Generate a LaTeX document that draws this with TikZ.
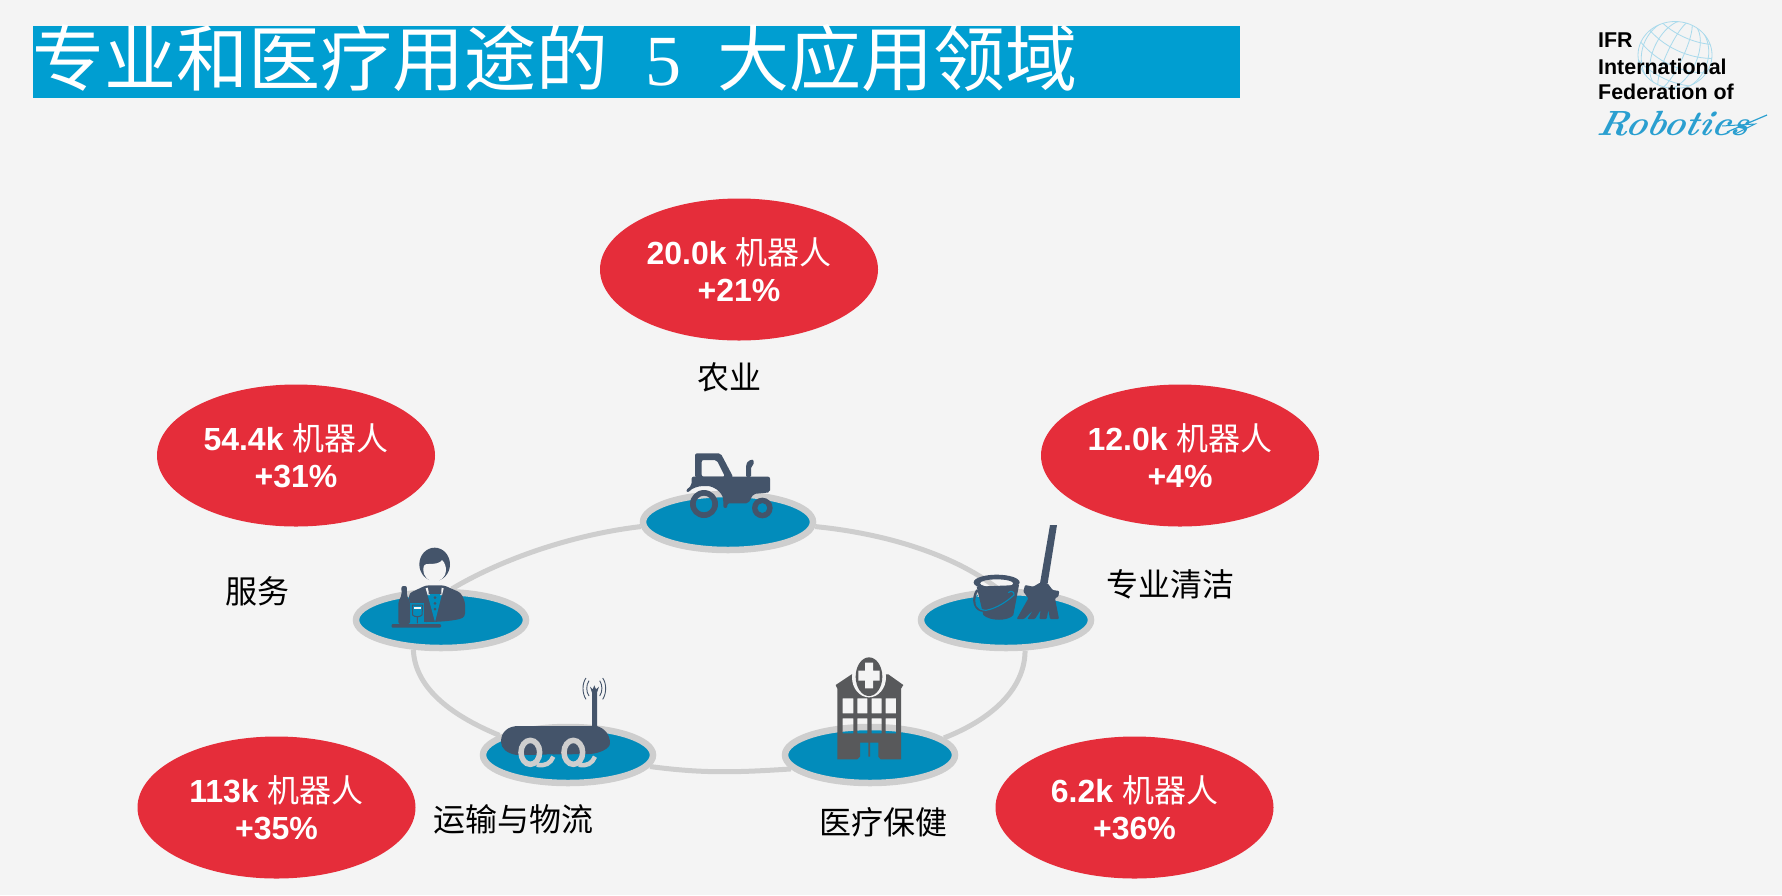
\documentclass[tikz,border=0pt]{standalone}
\usepackage{fontspec}
\setmainfont{Liberation Sans}
\newfontfamily\cjk{Noto Sans CJK SC}
\newfontfamily\serifnum{Liberation Serif}
\newfontfamily\scriptrm{Latin Modern Roman}
\usetikzlibrary{shapes.geometric,backgrounds}
\definecolor{bgc}{HTML}{F4F4F4}
\definecolor{barc}{HTML}{009ED1}
\definecolor{redc}{HTML}{E52D3A}
\definecolor{bluec}{HTML}{028CBB}
\definecolor{ringc}{HTML}{CECECE}
\definecolor{iconc}{HTML}{44546A}
\definecolor{hospc}{HTML}{58595B}
\definecolor{globec}{HTML}{A9DAEC}
\definecolor{robc}{HTML}{2A9FD0}
\tikzset{
  redell/.style={ellipse,fill=redc,minimum width=278pt,minimum height=142pt,inner sep=0pt,
    text=white,align=center,font=\fontsize{32}{37}\selectfont},
  hub/.style={ellipse,draw=ringc,fill=bluec,line width=6.5pt,minimum width=170pt,minimum height=56pt,inner sep=0pt},
  link/.style={draw=ringc,line width=5pt},
  lab/.style={font=\fontsize{32}{36}\selectfont\cjk,text=black,inner sep=0pt},
  logot/.style={font=\fontsize{21.4}{24}\selectfont\bfseries,text=black,anchor=base west,inner sep=0pt},
  zoomA/.style={shift={(340,420)},x=.33333pt,y=-.33333pt},
  zoomB/.style={shift={(620,420)},x=.33333pt,y=-.33333pt},
  gl/.style={draw=globec,line width=.8pt}
}
\begin{document}
\begin{tikzpicture}[x=1pt,y=-1pt]
\useasboundingbox (0,0) rectangle (1782,895);
% hubs
\node[hub] (trac) at (728,522) {};
\node[hub] (svc) at (441,620) {};
\node[hub] (clean) at (1006,620) {};
\node[hub] (trans) at (568,755) {};
\node[hub] (med) at (870,755) {};
\begin{scope}[on background layer]
\fill[bgc] (0,0) rectangle (1782,895);
\draw[link] (svc.71) .. controls (500,560) and (570,535) .. (trac.183);
\draw[link] (trac.-3) .. controls (880,533) and (950,552) .. (clean.104);
\draw[link] (clean.-58) .. controls (1025,690) and (990,720) .. (med.13);
\draw[link] (med.190) .. controls (730,773) and (700,773) .. (trans.-8);
\draw[link] (trans.164) .. controls (455,717) and (415,690) .. (svc.227);
\end{scope}
% title
\node[fill=barc,minimum width=1207pt,minimum height=72pt,inner sep=0pt,anchor=north west] (bar) at (33,26) {};
\node[anchor=base west,inner sep=0pt,text=white,font=\fontsize{72}{75}\selectfont\cjk] (title) at (32,85)
  {专业和医疗用途的\hspace{37pt}{\serifnum 5}\hspace{36pt}大应用领域};
% red ellipses
\node[redell] (e1) at (739,269.5) {{\bfseries 20.0k} {\cjk 机器人}\\{\bfseries +21\%}};
\node[redell] (e2) at (296,455.5) {{\bfseries 54.4k} {\cjk 机器人}\\{\bfseries +31\%}};
\node[redell] (e3) at (1180,455.5) {{\bfseries 12.0k} {\cjk 机器人}\\{\bfseries +4\%}};
\node[redell] (e4) at (276.5,807.5) {{\bfseries 113k} {\cjk 机器人}\\{\bfseries +35\%}};
\node[redell] (e5) at (1134.5,807.5) {{\bfseries 6.2k} {\cjk 机器人}\\{\bfseries +36\%}};
% labels
\node[lab] (l1) at (729,377) {农业};
\node[lab] (l2) at (257,591) {服务};
\node[lab] (l3) at (1170.6,584) {专业清洁};
\node[lab] (l4) at (513,819) {运输与物流};
\node[lab] (l5) at (883,822) {医疗保健};
% tractor
\begin{scope}[zoomA]
\fill[iconc,even odd rule,rounded corners=2pt]
  (1065,172) -- (1065,100) -- (1142,100) -- (1180,172) -- cycle
  (1085,120) -- (1130,120) -- (1155,170) -- (1085,170) -- cycle;
\fill[iconc,rounded corners=2pt] (1055,170) -- (1290,170) -- (1290,217) -- (1240,222) -- (1225,250) -- (1162,250) -- (1162,264) -- (1150,264) -- (1150,240)
  .. controls (1145,215) and (1120,198) .. (1095,198) .. controls (1075,198) and (1055,205) .. (1045,218) -- (1037,212) -- (1055,195) -- cycle;
\fill[iconc,rounded corners=1.5pt] (1218,172) -- (1218,135) -- (1225,122) -- (1241,118) -- (1241,135) -- (1233,140) -- (1233,172) -- cycle;
\fill[iconc,even odd rule] (1092,252) circle[radius=42] (1092,252) circle[radius=25];
\fill[iconc,even odd rule] (1267,264) circle[radius=31] (1267,264) circle[radius=15];
\end{scope}
% waiter
\begin{scope}[zoomA]
\fill[iconc] (284,433) ellipse[x radius=46,y radius=50];
\fill[bgc] (250,448) .. controls (250,435) and (255,432) .. (265,432) .. controls (285,432) and (300,430) .. (306,420)
  .. controls (315,428) and (318,440) .. (318,452) .. controls (318,470) and (300,485) .. (284,485) .. controls (265,485) and (250,470) .. (250,448) -- cycle;
\fill[iconc,rounded corners=3pt] (207,520) -- (258,496) -- (312,496) -- (362,518) -- (375,545) -- (375,590) .. controls (350,602) and (300,606) .. (250,606) -- (210,600) -- cycle;
\fill[bluec] (262,522) -- (306,522) -- (285,606) -- cycle;
\fill[bgc] (257,505) -- (263,503) -- (270,525) -- (263,525) -- cycle (311,505) -- (305,503) -- (300,525) -- (306,525) -- cycle;
\fill[iconc] (266,503) -- (285,512) -- (304,503) -- (304,524) -- (285,516) -- (266,524) -- cycle;
\foreach \yy in {533,550,567} \fill[iconc] (285,\yy) circle[radius=4.5];
\fill[bluec] (208,550) rectangle (252,612);
\fill[iconc,rounded corners=2pt] (175,612) -- (175,545) -- (185,525) -- (184,498) -- (201,498) -- (200,525) -- (210,545) -- (210,612) -- cycle;
\draw[iconc,line width=1pt] (217,555) -- (248,555) -- (246,585) .. controls (240,592) and (224,592) .. (218,585) -- cycle (232,592) -- (232,610);
\fill[bgc] (222,561) rectangle (243,567);
\fill[iconc,rounded corners=1pt] (155,612) rectangle (303,623);
\end{scope}
% robot
\begin{scope}[zoomA]
\fill[iconc] (756,925) -- (756,818) -- (750,800) -- (758,808) -- (763,796) -- (768,808) -- (777,800) -- (771,818) -- (771,925) -- cycle;
\draw[iconc,line width=.9pt] (747,782) .. controls (738,795) and (738,815) .. (747,828)
  (738,774) .. controls (726,790) and (726,820) .. (738,838)
  (779,782) .. controls (788,795) and (788,815) .. (779,828)
  (788,774) .. controls (800,790) and (800,820) .. (788,838);
\fill[iconc] (483,965) .. controls (483,935) and (505,918) .. (535,918) -- (770,918) .. controls (795,925) and (810,945) .. (810,970)
  .. controls (810,985) and (780,1000) .. (750,1002) -- (530,1005) .. controls (500,1000) and (483,985) .. (483,965) -- cycle;
\fill[bluec] (620,1003) -- (640,1003) -- (628,1030) -- (615,1033) -- cycle (745,1003) -- (768,1003) -- (755,1030) -- (742,1033) -- cycle;
\draw[ringc,line width=5.5pt] (571,997) ellipse[x radius=28,y radius=36] (700,997) ellipse[x radius=28,y radius=36];
\draw[ringc,line width=4.5pt] (590,1034) .. controls (615,1040) and (632,1030) .. (640,1010)
  (716,1034) .. controls (740,1040) and (757,1030) .. (765,1010);
\end{scope}
% hospital
\begin{scope}[zoomB]
\fill[hospc,even odd rule] (652,1018) -- (652,806) -- (647,795) -- (695,763) -- (805,763) -- (850,795) -- (843,806) -- (843,1018) -- (782,1018) -- (775,1010) -- (775,968) -- (750,968) -- (750,1010) -- (745,1010) -- (745,968) -- (720,968) -- (720,1010) -- (712,1018) -- cycle
  (668,835) rectangle (700,880) (712,835) rectangle (742,880) (755,835) rectangle (785,880) (797,835) rectangle (828,880)
  (668,895) rectangle (700,940) (712,895) rectangle (742,940) (755,895) rectangle (785,940) (797,895) rectangle (828,940);
\fill[bgc] (747,772) ellipse[x radius=51,y radius=60];
\fill[hospc] (747,770) ellipse[x radius=40,y radius=58];
\fill[bgc] (735,728) rectangle (759,805) (715,752) rectangle (779,782);
\end{scope}
% bucket and mop
\begin{scope}[zoomB]
\fill[iconc] (1070,500) -- (1090,585) .. controls (1110,604) and (1165,604) .. (1180,585) -- (1197,495) -- cycle;
\fill[iconc,even odd rule] (1130,487) ellipse[x radius=69,y radius=23] (1130,490) ellipse[x radius=50,y radius=12];
\draw[iconc,line width=2.4pt] (1072,510) .. controls (1055,535) and (1062,575) .. (1095,572);
\draw[bluec,line width=1.1pt] (1072,525) .. controls (1062,550) and (1070,570) .. (1098,571) .. controls (1130,565) and (1160,545) .. (1182,525) .. controls (1184,515) and (1172,510) .. (1165,518);
\fill[iconc] (1290,315) -- (1311,315) -- (1283,490) -- (1260,490) -- cycle;
\fill[iconc,rounded corners=1pt] (1260,488) -- (1283,490) -- (1298,510) -- (1318,513) -- (1315,530) -- (1305,535) -- (1317,597) -- (1290,597) -- (1285,570) -- (1280,597) -- (1258,597) -- (1262,570) -- (1245,597) -- (1222,597) -- (1240,570) -- (1212,597) -- (1190,597) -- (1225,535) -- (1210,515) -- (1215,495) -- (1240,500) -- cycle;
\end{scope}
% logo
\begin{scope}[shift={(1675,55)}]
\draw[gl] (0,0) ellipse[x radius=37,y radius=33.5];
\begin{scope}
\clip (0,0) ellipse[x radius=37,y radius=33.5];
\foreach \rr in {8,22,33} {
  \draw[gl,rotate=-25] (0,0) ellipse[x radius=\rr,y radius=37];
}
\foreach \yy in {-24,-9,7,22} {
  \draw[gl,rotate=-25] (-38,\yy-5) .. controls (-15,\yy+7) and (15,\yy+7) .. (38,\yy-5);
}
\end{scope}
\end{scope}
\node[logot] (logo1) at (1598,47) {IFR};
\node[logot] (logo2) at (1598,74) {International};
\node[logot] (logo3) at (1598,99) {Federation of};
\node[anchor=base west,inner sep=0pt,text=robc,transform shape,cm={1.02,0,.25,1,(1596,135)},font=\fontsize{35}{38}\selectfont\scriptrm\bfseries\itshape] (logo4) at (0,0) {Robotics};
\draw[robc,line width=1.2pt] (1727,132) -- (1767,115);
\draw[robc,line width=1pt] (1722,126) -- (1755,124) -- (1735,134);
\end{tikzpicture}
\end{document}
